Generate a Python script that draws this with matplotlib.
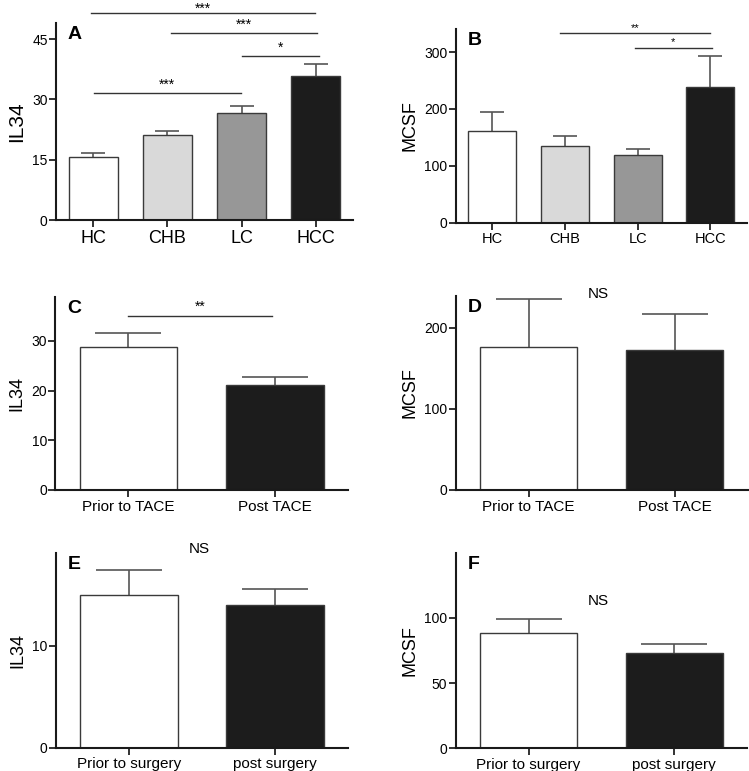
import matplotlib
matplotlib.use("Agg")
import matplotlib.pyplot as plt
import numpy as np

plt.rcParams['font.family'] = ['Liberation Sans', 'DejaVu Sans']

W, H = 749, 771

# ---- data ----
groups4 = ["HC", "CHB", "LC", "HCC"]
il34_mean = [15.6, 21.1, 26.5, 35.7]
il34_err = [1.0, 1.0, 1.9, 3.0]
mcsf_mean = [161, 135, 119, 238]
mcsf_err = [33, 17, 10, 55]

tace_labels = ["Prior to TACE", "Post TACE"]
tace_il34_mean = [28.7, 21.2]
tace_il34_err = [2.8, 1.5]
tace_mcsf_mean = [176, 172]
tace_mcsf_err = [59, 45]

surg_labels = ["Prior to surgery", "post surgery"]
surg_il34_mean = [15.0, 14.0]
surg_il34_err = [2.45, 1.6]
surg_mcsf_mean = [88.5, 73.4]
surg_mcsf_err = [10.7, 6.9]

colors4 = ["#ffffff", "#d9d9d9", "#979797", "#1c1c1c"]
colors2 = ["#ffffff", "#1c1c1c"]

fig = plt.figure(figsize=(W / 100, H / 100), dpi=100)


def add_ax(left, right, bottom, top):
    return fig.add_axes([left / W, 1 - bottom / H, (right - left) / W, (bottom - top) / H])


def panel(ax, labels, means, errs, colors, ylim, yticks, ylabel, letter,
          xlabsize, ylabsize, width, capsize):
    x = np.arange(len(labels))
    ax.bar(x, means, width=width, color=colors, edgecolor="#3a3a3a", linewidth=1.0, zorder=2)
    eb = ax.errorbar(x, means, yerr=[np.zeros(len(means)), errs], fmt="none",
                     ecolor="#555555", elinewidth=1.2, capsize=capsize, capthick=1.2, zorder=1)
    eb[1][0].set_visible(False)
    ax.set_xlim(-0.5, len(labels) - 0.5)
    ax.set_ylim(*ylim)
    ax.set_yticks(yticks)
    ax.set_xticks(x)
    ax.set_xticklabels(labels, fontsize=xlabsize)
    ax.tick_params(axis="y", labelsize=10, length=5, width=1.3, pad=1, color="#222222")
    ax.tick_params(axis="x", length=5, width=1.3, pad=2, color="#222222")
    for s in ["top", "right"]:
        ax.spines[s].set_visible(False)
    for s in ["left", "bottom"]:
        ax.spines[s].set_linewidth(1.5)
        ax.spines[s].set_color("#1a1a1a")
    ax.set_ylabel(ylabel, fontsize=ylabsize, labelpad=4)
    ax.text(0.04, 0.985, letter, transform=ax.transAxes, fontsize=14, fontweight="bold",
            va="top", ha="left")


def sig(ax, x1, x2, y, text, size=10, dy=0.0):
    ax.plot([x1, x2], [y, y], color="#333333", lw=1.0, clip_on=False)
    ax.text((x1 + x2) / 2, y + dy, text, ha="center", va="bottom", fontsize=size, clip_on=False)


# A
axA = add_ax(56, 353, 220, 23)
panel(axA, groups4, il34_mean, il34_err, colors4, (0, 49), [0, 15, 30, 45], "IL34", "A",
      13, 15, 0.66, 8.5)
sig(axA, 0.01, 1.99, 31.5, "***", 10, 0.3)
sig(axA, 2.0, 3.04, 40.9, "*", 10, 0.3)
sig(axA, 1.05, 3.02, 46.4, "***", 10, 0.3)
sig(axA, -0.03, 2.99, 51.5, "***", 10, -0.6)

# B
axB = add_ax(455.7, 746.7, 222.7, 29.3)
panel(axB, groups4, mcsf_mean, mcsf_err, colors4, (0, 340), [0, 100, 200, 300], "MCSF", "B",
      10.5, 13, 0.66, 8.5)
sig(axB, 0.94, 2.99, 333, "**", 8, 1)
sig(axB, 1.96, 3.02, 307, "*", 8, 1)

# C
axC = add_ax(55.3, 348, 490, 296.7)
panel(axC, tace_labels, tace_il34_mean, tace_il34_err, colors2, (0, 38.9), [0, 10, 20, 30],
      "IL34", "C", 11, 13, 0.667, 24)
sig(axC, 0.0, 0.98, 35.1, "**", 10, 0.4)

# D
axD = add_ax(455.7, 747.7, 490, 296)
panel(axD, tace_labels, tace_mcsf_mean, tace_mcsf_err, colors2, (0, 239), [0, 100, 200],
      "MCSF", "D", 11, 13, 0.667, 24)
axD.text(0.48, 242, "NS", ha="center", va="center", fontsize=11, clip_on=False)

# E
axE = add_ax(56, 348, 747.7, 553.3)
panel(axE, surg_labels, surg_il34_mean, surg_il34_err, colors2, (0, 19.06), [0, 10],
      "IL34", "E", 11, 13, 0.667, 24)
axE.text(0.48, 19.5, "NS", ha="center", va="center", fontsize=11, clip_on=False)

# F
axF = add_ax(455.7, 747, 748.3, 553.3)
panel(axF, surg_labels, surg_mcsf_mean, surg_mcsf_err, colors2, (0, 149.6), [0, 50, 100],
      "MCSF", "F", 11, 13, 0.667, 24)
axF.text(0.48, 113, "NS", ha="center", va="center", fontsize=11)

fig.savefig("out.png", dpi=100)
